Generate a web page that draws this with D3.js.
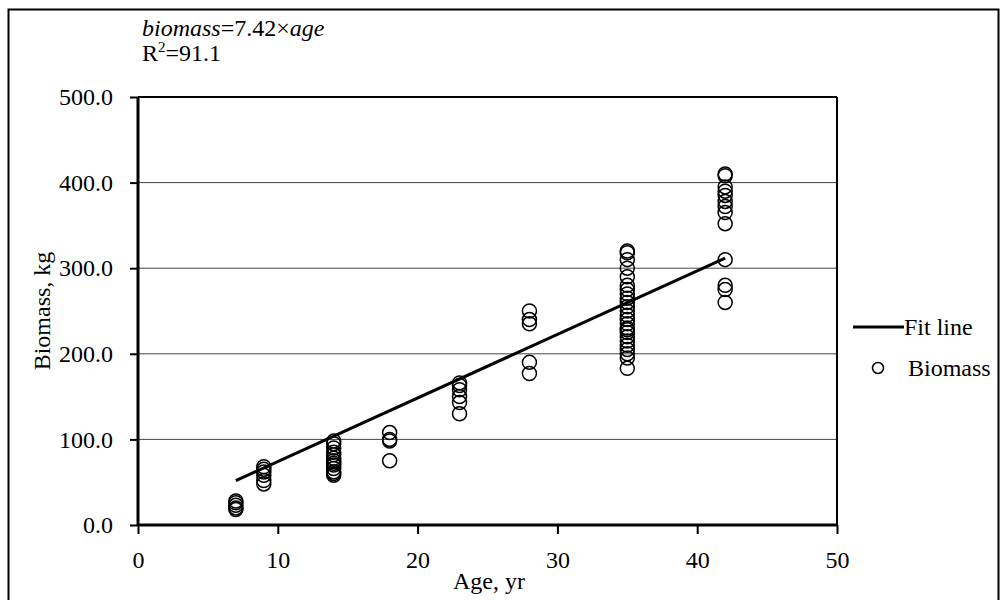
<!DOCTYPE html>
<html><head><meta charset="utf-8">
<script src="https://cdn.jsdelivr.net/npm/d3@7/dist/d3.min.js"></script>
<style>body{margin:0;background:#fff}svg{display:block}text{font-family:"Liberation Serif","Times New Roman",serif;fill:#000}</style>
</head><body><svg id="c" width="1005" height="600"></svg>
<script>
const ages =     [7,7,7,7,7, 9,9,9,9,9,9, 14,14,14,14,14,14,14,14,14,14,14,14,14, 18,18,18,18, 23,23,23,23,23,23, 28,28,28,28,28,
  35,35,35,35,35,35,35,35,35,35,35,35,35,35,35,35,35,35,35,35,35,35,35,35,35,
  42,42,42,42,42,42,42,42,42,42,42,42,42];
const biomass = [18,20,23,26,28, 48,52,58,62,65,68, 58,60,62,66,70,72,75,78,82,85,90,95,98, 108,100,98,75, 166,163,158,150,143,130, 250,240,235,190,177,
  320,318,310,300,290,280,275,270,265,260,255,250,245,240,235,230,228,225,220,215,210,205,200,195,183,
  410,408,395,390,385,378,372,365,352,310,280,275,260];
const slope = 7.42;
const fitAges = [7, 42];
const xTicks = [0,10,20,30,40,50];
const yTicks = [0,100,200,300,400,500];

const FS = "24px";
const svg = d3.select("#c");
const L=138,R=837,T=97,B=525;
const x = d3.scaleLinear().domain([0,50]).range([L,R]);
const y = d3.scaleLinear().domain([0,500]).range([B,T]);

// outer border
svg.append("rect").attr("x",8.5).attr("y",9.5).attr("width",990).attr("height",620).attr("fill","none").attr("stroke","#000").attr("stroke-width",2);

// grid
svg.append("g").selectAll("line").data(yTicks.filter(d=>d>0&&d<500)).join("line")
  .attr("x1",L).attr("x2",R).attr("y1",d=>y(d)).attr("y2",d=>y(d)).attr("stroke","#444").attr("stroke-width",1);
// frame top/right
svg.append("line").attr("x1",L).attr("x2",R).attr("y1",T).attr("y2",T).attr("stroke","#000").attr("stroke-width",2);
svg.append("line").attr("x1",R).attr("x2",R).attr("y1",T).attr("y2",B).attr("stroke","#000").attr("stroke-width",2);

// axes
const ya = svg.append("g").attr("transform",`translate(${L},0)`).call(d3.axisLeft(y).tickValues(yTicks).tickFormat(d3.format(".1f")).tickSize(8).tickPadding(17));
const xa = svg.append("g").attr("transform",`translate(0,${B})`).call(d3.axisBottom(x).tickValues(xTicks).tickFormat(d3.format("d")).tickSize(9).tickPadding(17));
[ya,xa].forEach(a=>{a.attr("font-family",null).attr("font-size",null);
  a.select(".domain").attr("stroke","#000").attr("stroke-width",3);
  a.selectAll(".tick line").attr("stroke","#000").attr("stroke-width",2);
  a.selectAll(".tick text").style("font-size",FS).attr("fill","#000");});
ya.select(".domain").attr("d",`M0,${B}V${T}`);
xa.select(".domain").attr("d",`M${L},0H${R}`);

// points
svg.append("g").selectAll("circle").data(ages.map((a,i)=>[a,biomass[i]])).join("circle")
  .attr("cx",d=>x(d[0])).attr("cy",d=>y(d[1])).attr("r",7).attr("fill","none").attr("stroke","#000").attr("stroke-width",1.5);

// fit line
svg.append("line").attr("x1",x(fitAges[0])).attr("y1",y(slope*fitAges[0])).attr("x2",x(fitAges[1])).attr("y2",y(slope*fitAges[1]))
  .attr("stroke","#000").attr("stroke-width",3);

// annotation
const t1 = svg.append("text").attr("x",142).attr("y",36).style("font-size",FS);
t1.append("tspan").attr("font-style","italic").text("biomass");
t1.append("tspan").text("=7.42×");
t1.append("tspan").attr("font-style","italic").text("age");
const t2 = svg.append("text").attr("x",142).attr("y",61).style("font-size",FS);
t2.append("tspan").text("R");
t2.append("tspan").attr("dy",-9).style("font-size","15px").text("2");
t2.append("tspan").attr("dy",9).text("=91.1");

// axis titles
svg.append("text").attr("transform","translate(50,311) rotate(-90)").attr("text-anchor","middle").style("font-size",FS).text("Biomass, kg");
svg.append("text").attr("x",489).attr("y",589).attr("text-anchor","middle").style("font-size",FS).text("Age, yr");

// legend
svg.append("line").attr("x1",853).attr("x2",904).attr("y1",327).attr("y2",327).attr("stroke","#000").attr("stroke-width",3);
svg.append("text").attr("x",904).attr("y",335).style("font-size",FS).text("Fit line");
svg.append("circle").attr("cx",878).attr("cy",368).attr("r",5.5).attr("fill","none").attr("stroke","#000").attr("stroke-width",1.5);
svg.append("text").attr("x",908).attr("y",376).style("font-size",FS).text("Biomass");
</script></body></html>
